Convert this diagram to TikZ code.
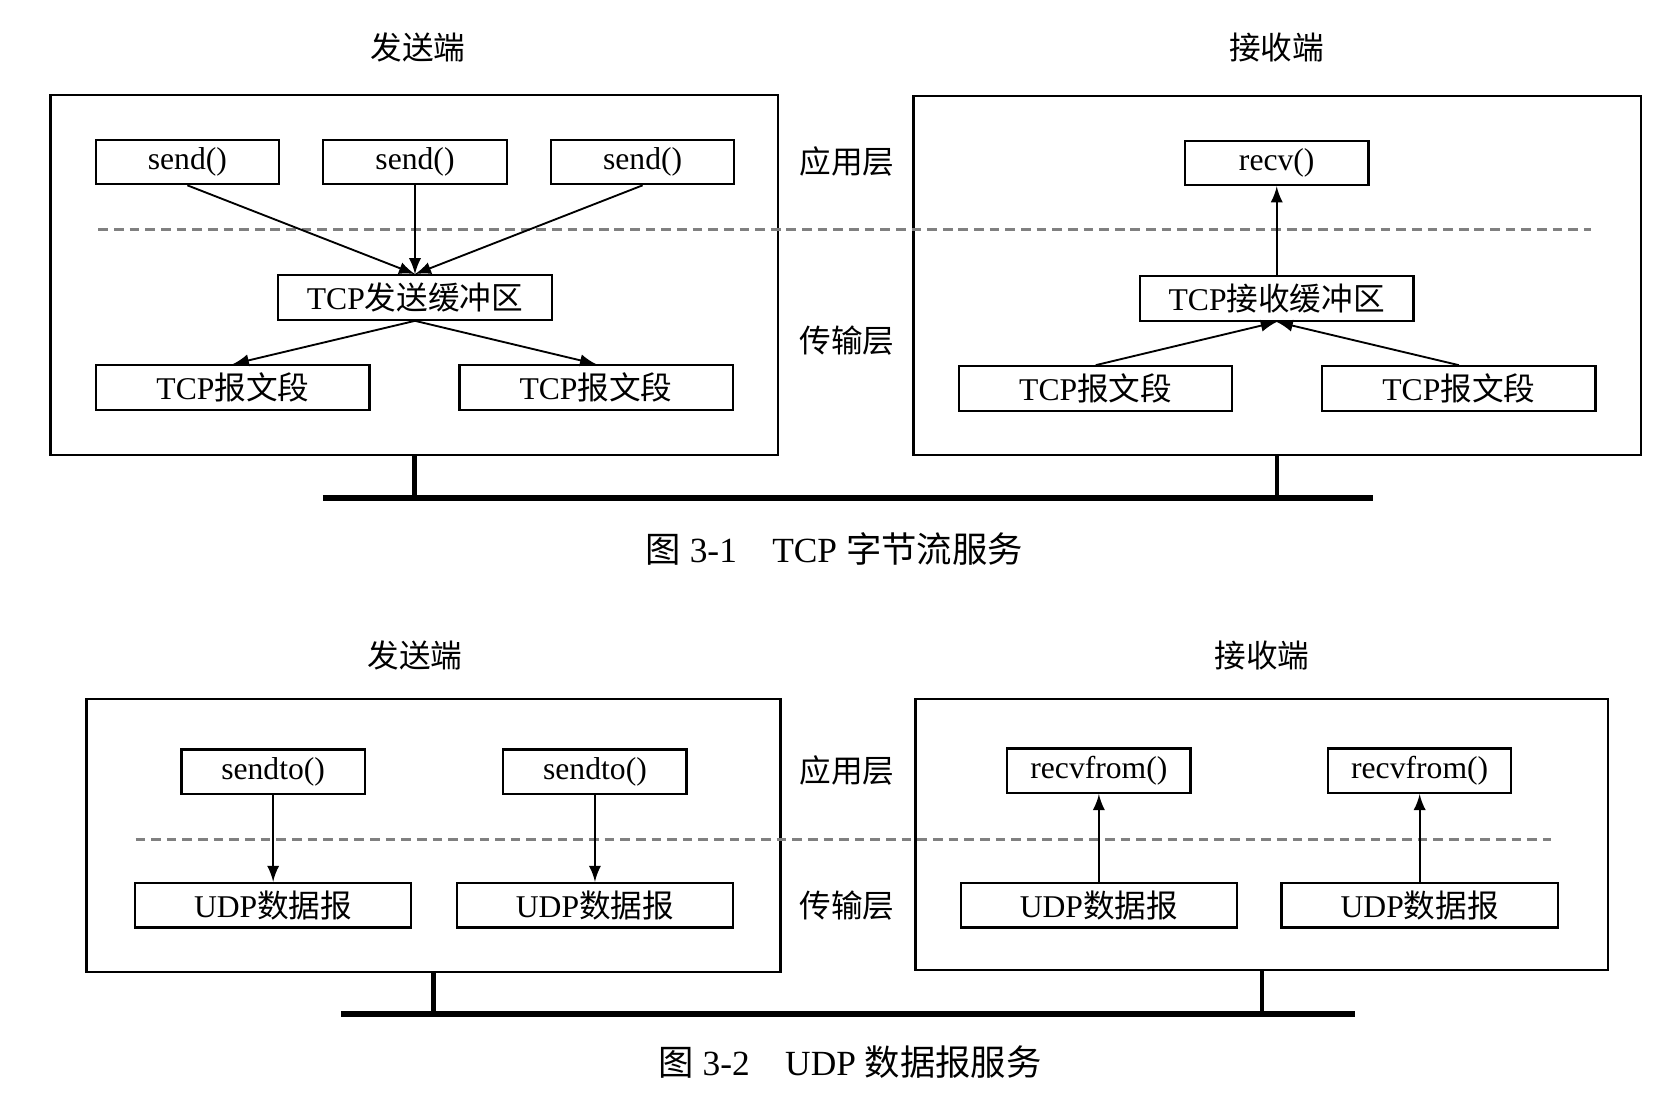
\documentclass[tikz,border=0pt]{standalone}
\usepackage{fontspec}
\setmainfont{Liberation Serif}
\newfontfamily\cjk{Noto Sans CJK SC}
\usepackage{tikz}
\usetikzlibrary{arrows,calc}
\tikzstyle{host}=[draw, line width=0.6pt, inner sep=0pt]
\tikzstyle{fbox}=[draw, line width=0.6pt, inner sep=0pt,% a plain box for calls and buffers
minimum width=1.73cm, minimum height=0.42cm, font=\fontsize{8.5}{10}\selectfont]
\tikzstyle{wbox}=[fbox, minimum width=2.58cm]
\tikzstyle{dgraph}=[->, >=latex, line width=0.5pt]
\tikzstyle{layer}=[gray, line width=0.7pt, dash pattern=on 2.6pt off 1.6pt]
\tikzstyle{bus}=[line width=1.6pt]
\tikzstyle{stem}=[line width=1.1pt]
\tikzstyle{ttl}=[font=\cjk\fontsize{8.5}{10}\selectfont]
\tikzstyle{figcap}=[font=\fontsize{9.5}{11}\selectfont]

\begin{document}
\begin{tikzpicture}[x=0.01cm, y=-0.01cm]
\useasboundingbox (0,0) rectangle (1568,1034);
% TCP
\node[ttl] (tsT) at (395, 45) {发送端};
\node[ttl] (trT) at (1206, 45) {接收端};
\node[host, minimum width=6.87cm, minimum height=3.40cm] (tsH) at (391.5, 260) {};
\node[host, minimum width=6.87cm, minimum height=3.39cm] (trH) at (1206.5, 260.5) {};
\node[fbox] (send1) at (177, 153) {send()};
\node[fbox] (send2) at (392, 153) {send()};
\node[fbox] (send3) at (607, 153) {send()};
\node[wbox] (sbuf) at (392, 281) {TCP{\cjk 发送缓冲区}};
\node[wbox] (sseg1) at (220, 366) {TCP{\cjk 报文段}};
\node[wbox] (sseg2) at (563, 366) {TCP{\cjk 报文段}};
\node[fbox] (recv) at (1206, 154) {recv()};
\node[wbox] (rbuf) at (1206, 282) {TCP{\cjk 接收缓冲区}};
\node[wbox] (rseg1) at (1035, 367) {TCP{\cjk 报文段}};
\node[wbox] (rseg2) at (1378, 367) {TCP{\cjk 报文段}};
\node[ttl] (tApp) at (800, 153) {应用层};
\node[ttl] (tTra) at (800, 322) {传输层};
\coordinate (tdL) at (93, 217);
\coordinate (tdR) at (1503, 217);
\coordinate (tbL) at (305, 470);
\coordinate (tbR) at (1297, 470);
\draw[layer] (tdL) -- (tdR);
\draw[dgraph] (send1.south) -- (sbuf.north);
\draw[dgraph] (send2.south) -- (sbuf.north);
\draw[dgraph] (send3.south) -- (sbuf.north);
\draw[dgraph] (sbuf.south) -- (sseg1.north);
\draw[dgraph] (sbuf.south) -- (sseg2.north);
\draw[dgraph] (rseg1.north) -- (rbuf.south);
\draw[dgraph] (rseg2.north) -- (rbuf.south);
\draw[dgraph] (rbuf.north) -- (recv.south);
\draw[stem] (tsH.south) -- (tsH.south |- tbL);
\draw[stem] (trH.south) -- (trH.south |- tbL);
\draw[bus] (tbL) -- (tbR);
\node[figcap] (tCap) at (788, 519) {{\cjk 图} 3-1\quad TCP {\cjk 字节流服务}};
% UDP
\node[ttl] (usT) at (392, 619) {发送端};
\node[ttl] (urT) at (1192, 619) {接收端};
\node[host, minimum width=6.55cm, minimum height=2.58cm] (usH) at (409.5, 789) {};
\node[host, minimum width=6.54cm, minimum height=2.56cm] (urH) at (1192, 788) {};
\node[fbox] (sto1) at (258, 729) {sendto()};
\node[fbox] (sto2) at (562, 729) {sendto()};
\node[wbox, minimum width=2.61cm] (sdg1) at (258, 855) {UDP{\cjk 数据报}};
\node[wbox, minimum width=2.61cm] (sdg2) at (562, 855) {UDP{\cjk 数据报}};
\node[fbox] (rfr1) at (1038, 728) {recvfrom()};
\node[fbox] (rfr2) at (1341, 728) {recvfrom()};
\node[wbox, minimum width=2.61cm] (rdg1) at (1038, 855) {UDP{\cjk 数据报}};
\node[wbox, minimum width=2.61cm] (rdg2) at (1341, 855) {UDP{\cjk 数据报}};
\node[ttl] (uApp) at (800, 728) {应用层};
\node[ttl] (uTra) at (800, 855) {传输层};
\coordinate (udL) at (128, 793);
\coordinate (udR) at (1465, 793);
\coordinate (ubL) at (322, 958);
\coordinate (ubR) at (1280, 958);
\draw[layer] (udL) -- (udR);
\draw[dgraph] (sto1.south) -- (sdg1.north);
\draw[dgraph] (sto2.south) -- (sdg2.north);
\draw[dgraph] (rdg1.north) -- (rfr1.south);
\draw[dgraph] (rdg2.north) -- (rfr2.south);
\draw[stem] (usH.south) -- (usH.south |- ubL);
\draw[stem] (urH.south) -- (urH.south |- ubL);
\draw[bus] (ubL) -- (ubR);
\node[figcap] (uCap) at (803, 1003) {{\cjk 图} 3-2\quad UDP {\cjk 数据报服务}};
\end{tikzpicture}
\end{document}
